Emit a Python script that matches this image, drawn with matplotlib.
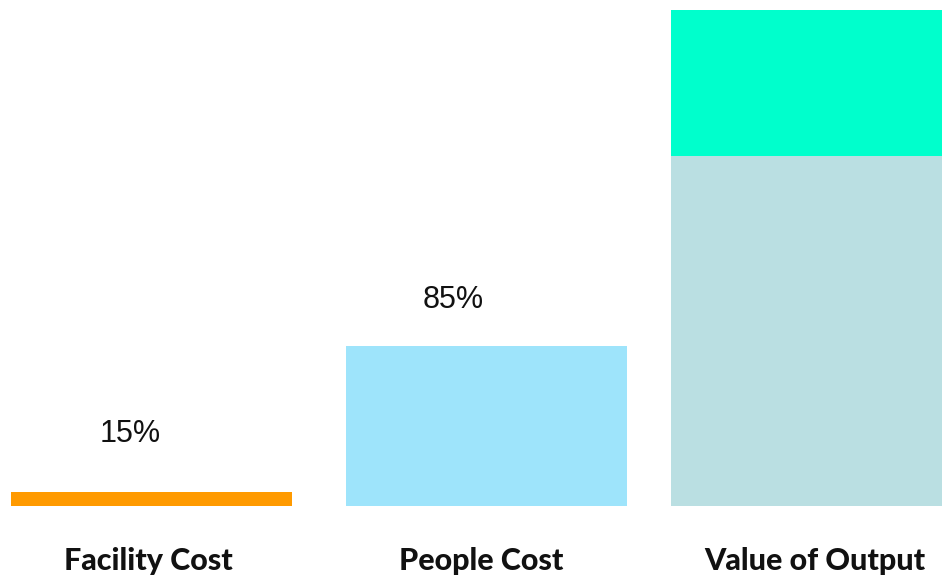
import matplotlib.pyplot as plt

categories = ['Facility Cost', 'People Cost', 'Value of Output']
base_values = [2.8, 32.3, 70.6]
top_values = [0, 0, 29.4]
pct_labels = ['15%', '85%']
pct_label_y = [14.6, 41.6]

# layout
bar_x = [0, 1, 1.972]
bar_w = 0.839
label_x = [-0.01, 0.985, 1.98]
pct_x = [-0.064, 0.90]
base_colors = ['#FF9A00', '#9EE4FB', '#BADFE2']
top_color = '#00FFCC'

fig = plt.figure(figsize=(9.42, 5.8), dpi=100)
ax = fig.add_axes([0, 74 / 580, 1, 506 / 580])

ax.bar(bar_x, base_values, width=bar_w, color=base_colors)
ax.bar(bar_x, top_values, width=bar_w, bottom=base_values, color=top_color)

for x, txt, y in zip(pct_x, pct_labels, pct_label_y):
    ax.text(x, y, txt, ha='center', va='center', fontsize=22,
            family='Liberation Sans', color='#111111')

for x, name in zip(label_x, categories):
    ax.text(x, -13, name, ha='center', va='baseline', fontsize=22,
            family='Lato', fontweight='black', color='#111111', clip_on=False)

ax.set_xlim(-0.452, 2.36)
ax.set_ylim(0, 102)
ax.axis('off')

plt.savefig('out.png', dpi=100)
